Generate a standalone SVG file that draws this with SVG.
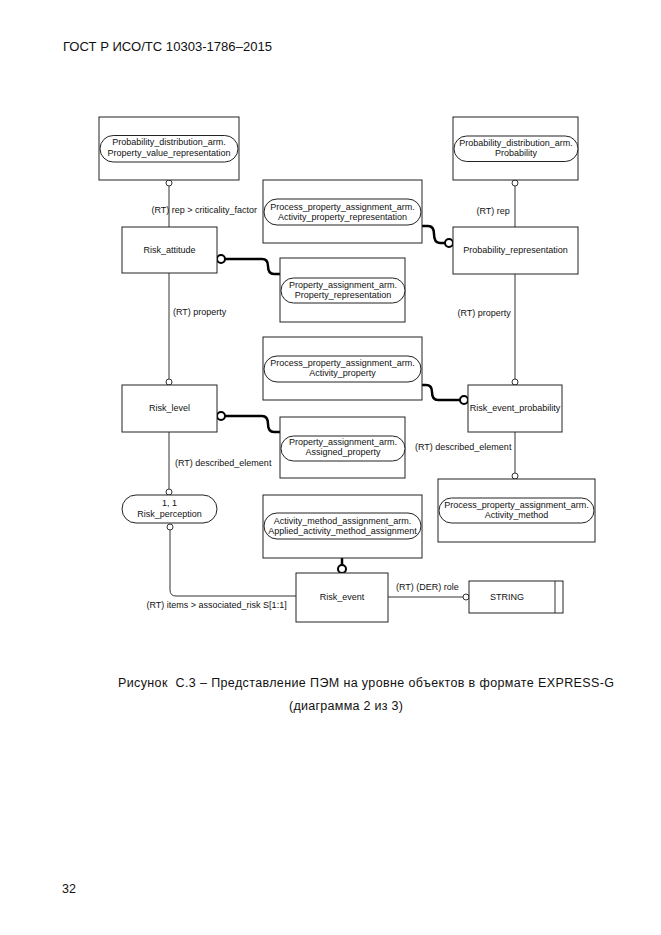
<svg xmlns="http://www.w3.org/2000/svg" width="661" height="935" viewBox="0 0 661 935">
<style>
.bx{fill:#fff;stroke:#222;stroke-width:1}
.ov{fill:#fff;stroke:#222;stroke-width:1}
.t{font-family:"Liberation Sans",Arial,sans-serif;font-size:9px;fill:#111;text-anchor:middle}
.l{font-family:"Liberation Sans",Arial,sans-serif;font-size:9px;fill:#111}
.pg{font-family:"Liberation Sans",Arial,sans-serif;font-size:12.5px;fill:#111}
.thin{fill:none;stroke:#333;stroke-width:1}
.thick{fill:none;stroke:#000;stroke-width:2.5}
.sc{fill:#fff;stroke:#333;stroke-width:1}
.bc{fill:#fff;stroke:#000;stroke-width:2}
</style>
<rect width="661" height="935" fill="#fff"/>
<text class="pg" x="63" y="51" textLength="209" lengthAdjust="spacingAndGlyphs">ГОСТ Р ИСО/ТС 10303-1786–2015</text>

<g id="connectors">
<path class="thin" d="M169,186 V227"/>
<circle class="sc" cx="169" cy="183" r="3"/>
<path class="thin" d="M169,273 V379"/>
<circle class="sc" cx="169" cy="382" r="3"/>
<path class="thin" d="M169,432 V489"/>
<circle class="sc" cx="169" cy="492" r="3"/>
<path class="thin" d="M170,530 V590 Q170,596 176,596 H296"/>
<circle class="sc" cx="170" cy="527" r="3"/>
<path class="thin" d="M515,186 V227"/>
<circle class="sc" cx="515" cy="183" r="3"/>
<path class="thin" d="M515,274 V379"/>
<circle class="sc" cx="515" cy="382" r="3"/>
<path class="thin" d="M515,432 V473"/>
<circle class="sc" cx="515" cy="476" r="3"/>
<path class="thin" d="M388,597 H463"/>
<circle class="sc" cx="466" cy="597" r="3"/>
<path class="thick" d="M225,259 H262 Q268,259 268,266 Q268,274 274,274 H280"/>
<circle class="bc" cx="221" cy="259" r="4"/>
<path class="thick" d="M422,226 H428 Q434,226 434,234 Q434,243 440,243 H445"/>
<circle class="bc" cx="449" cy="243" r="4"/>
<path class="thick" d="M422,385 H426 Q432,385 432,392 Q432,400 438,400 H460"/>
<circle class="bc" cx="464" cy="400" r="4"/>
<path class="thick" d="M225,416 H262 Q268,416 268,424 Q268,432 274,432 H280"/>
<circle class="bc" cx="221" cy="416" r="4"/>
<path class="thick" d="M342,558 V565"/>
<circle class="bc" cx="342" cy="569" r="4"/>
<text class="l" x="151.5" y="213">(RT) rep &gt; criticality_factor</text>
<text class="l" x="173" y="315">(RT) property</text>
<text class="l" x="476.5" y="214">(RT) rep</text>
<text class="l" x="457.5" y="316">(RT) property</text>
<text class="l" x="175" y="466">(RT) described_element</text>
<text class="l" x="415" y="449.5">(RT) described_element</text>
<text class="l" x="146.5" y="608">(RT) items &gt; associated_risk S[1:1]</text>
<text class="l" x="396" y="590">(RT) (DER) role</text>
</g>

<g id="pda_pvr">
<rect class="bx" x="99" y="117" width="140" height="63"/>
<rect class="ov" x="100" y="135.5" width="138" height="26.5" rx="13.25"/>
<text class="t" x="169" y="145">Probability_distribution_arm.</text>
<text class="t" x="169" y="155.5">Property_value_representation</text>
</g>
<g id="pda_prob">
<rect class="bx" x="453" y="117" width="125" height="63"/>
<rect class="ov" x="454" y="136" width="124" height="25.5" rx="12.75"/>
<text class="t" x="516" y="145.5">Probability_distribution_arm.</text>
<text class="t" x="516" y="156">Probability</text>
</g>
<g id="ppa_apr">
<rect class="bx" x="263" y="180" width="159" height="63"/>
<rect class="ov" x="264" y="199" width="157" height="26" rx="13"/>
<text class="t" x="342.5" y="210">Process_property_assignment_arm.</text>
<text class="t" x="342.5" y="220">Activity_property_representation</text>
</g>
<g id="risk_attitude">
<rect class="bx" x="122" y="227" width="95" height="46"/>
<text class="t" x="169.5" y="253">Risk_attitude</text>
</g>
<g id="probability_representation">
<rect class="bx" x="453" y="227" width="125" height="47"/>
<text class="t" x="515.5" y="253">Probability_representation</text>
</g>
<g id="pa_pr">
<rect class="bx" x="280" y="258" width="125" height="64"/>
<rect class="ov" x="281" y="278" width="124" height="25" rx="12.5"/>
<text class="t" x="343" y="287.5">Property_assignment_arm.</text>
<text class="t" x="343" y="298">Property_representation</text>
</g>
<g id="ppa_ap">
<rect class="bx" x="263" y="337" width="159" height="63"/>
<rect class="ov" x="264" y="356" width="157" height="26" rx="13"/>
<text class="t" x="342.5" y="366">Process_property_assignment_arm.</text>
<text class="t" x="342.5" y="376">Activity_property</text>
</g>
<g id="risk_level">
<rect class="bx" x="122" y="385" width="95" height="47"/>
<text class="t" x="169.5" y="411">Risk_level</text>
</g>
<g id="risk_event_probability">
<rect class="bx" x="468" y="385" width="94" height="47"/>
<text class="t" x="515" y="411">Risk_event_probability</text>
</g>
<g id="pa_ap">
<rect class="bx" x="280" y="417" width="125" height="61"/>
<rect class="ov" x="281" y="436" width="124" height="25" rx="12.5"/>
<text class="t" x="343" y="445">Property_assignment_arm.</text>
<text class="t" x="343" y="455">Assigned_property</text>
</g>
<g id="ppa_am">
<rect class="bx" x="438" y="479" width="157" height="63"/>
<rect class="ov" x="439" y="498" width="155" height="25" rx="12.5"/>
<text class="t" x="516.5" y="507.5">Process_property_assignment_arm.</text>
<text class="t" x="516.5" y="517.5">Activity_method</text>
</g>
<g id="risk_perception">
<rect class="ov" x="122" y="495" width="95" height="28" rx="14"/>
<text class="t" x="169.5" y="505.5">1, 1</text>
<text class="t" x="169.5" y="516.5">Risk_perception</text>
</g>
<g id="ama_aama">
<rect class="bx" x="263" y="495" width="159" height="63"/>
<rect class="ov" x="264" y="513" width="157" height="26" rx="13"/>
<text class="t" x="342.5" y="523.5">Activity_method_assignment_arm.</text>
<text class="t" x="342.5" y="534">Applied_activity_method_assignment</text>
</g>
<g id="risk_event">
<rect class="bx" x="296" y="573" width="92" height="49"/>
<text class="t" x="342" y="600">Risk_event</text>
</g>
<g id="string">
<rect class="bx" x="469" y="581" width="94" height="32"/>
<line class="thin" x1="555" y1="581" x2="555" y2="613"/>
<text class="t" x="507" y="600">STRING</text>
</g>

<text class="pg" x="118" y="687" textLength="496" lengthAdjust="spacing" xml:space="preserve">Рисунок  С.3 – Представление ПЭМ на уровне объектов в формате EXPRESS-G</text>
<text class="pg" x="289" y="710" textLength="114" lengthAdjust="spacing">(диаграмма 2 из 3)</text>
<text class="pg" x="62" y="893">32</text>
</svg>
